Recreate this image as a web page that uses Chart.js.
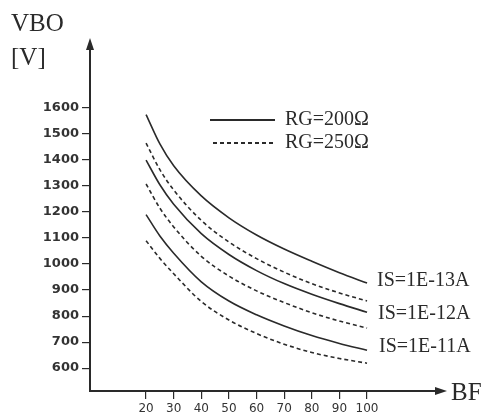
<!DOCTYPE html>
<html lang="en">
<head>
    <meta charset="UTF-8">
    <title>VBO vs BF</title>
    <style>
        html, body { margin: 0; padding: 0; background: #fff; }
        #wrap { width: 486px; height: 417px; position: relative; }
    </style>
</head>
<body>
    <div id="wrap"><canvas id="vboChart" width="486" height="417"></canvas></div>

    <script src="https://cdn.jsdelivr.net/npm/chart.js"></script>
    <script>
        // BF values (x) and VBO readings (y, volts)
        const bf = [20, 25, 30, 40, 50, 60, 70, 80, 90, 100];
        const xTicks = [20, 30, 40, 50, 60, 70, 80, 90, 100];
        const yTicks = [600, 700, 800, 900, 1000, 1100, 1200, 1300, 1400, 1500, 1600];

        // RG = 200 ohm (solid)
        const is13_rg200 = [1575, 1462, 1378, 1262, 1178, 1112, 1058, 1011, 967, 927];
        const is12_rg200 = [1400, 1305, 1230, 1117, 1037, 975, 925, 884, 848, 815];
        const is11_rg200 = [1190, 1108, 1042, 932, 858, 805, 762, 725, 695, 669];
        // RG = 250 ohm (dashed)
        const is13_rg250 = [1465, 1363, 1285, 1168, 1085, 1021, 969, 925, 889, 858];
        const is12_rg250 = [1308, 1215, 1143, 1030, 954, 897, 852, 813, 781, 754];
        const is11_rg250 = [1090, 1022, 963, 856, 785, 733, 692, 660, 637, 619];

        const ink = '#2a2a2a';

        function serie(values, dashed) {
            return {
                data: bf.map((b, i) => ({ x: b, y: values[i] })),
                borderColor: ink,
                borderWidth: 1.6,
                borderDash: dashed ? [4, 3] : [],
                pointRadius: 0,
                fill: false,
                tension: 0.4,
                cubicInterpolationMode: 'monotone'
            };
        }

        // texte, fleches et legende dessines a la main
        const annotations = {
            id: 'annotations',
            afterDraw(chart) {
                const ctx = chart.ctx;
                const a = chart.chartArea;
                ctx.save();
                ctx.fillStyle = ink;
                ctx.strokeStyle = ink;

                // fleche axe Y
                ctx.beginPath();
                ctx.moveTo(a.left, a.top - 4);
                ctx.lineTo(a.left - 4, a.top + 8);
                ctx.lineTo(a.left + 4, a.top + 8);
                ctx.closePath();
                ctx.fill();
                // fleche axe X
                ctx.beginPath();
                ctx.moveTo(a.right + 4, a.bottom);
                ctx.lineTo(a.right - 8, a.bottom - 4);
                ctx.lineTo(a.right - 8, a.bottom + 4);
                ctx.closePath();
                ctx.fill();

                ctx.font = '25px "Liberation Serif"';
                ctx.textAlign = 'left';
                ctx.textBaseline = 'alphabetic';
                ctx.fillText('VBO', 11, 31);
                ctx.fillText('[V]', 11, 65);
                ctx.fillText('BF', 451, 400);

                // legende
                ctx.lineWidth = 1.8;
                ctx.beginPath();
                ctx.moveTo(210, 120);
                ctx.lineTo(275, 120);
                ctx.stroke();
                ctx.setLineDash([4, 3]);
                ctx.beginPath();
                ctx.moveTo(213, 143);
                ctx.lineTo(275, 143);
                ctx.stroke();
                ctx.setLineDash([]);

                ctx.font = '20px "Liberation Serif"';
                ctx.textBaseline = 'middle';
                ctx.fillText('RG=200\u03A9', 285, 120);
                ctx.fillText('RG=250\u03A9', 285, 143);

                ctx.fillText('IS=1E-13A', 377, 281);
                ctx.fillText('IS=1E-12A', 378, 314);
                ctx.fillText('IS=1E-11A', 379, 347);
                ctx.restore();
            }
        };

        const ctx = document.getElementById('vboChart').getContext('2d');
        const chart = new Chart(ctx, {
            type: 'line',
            data: {
                datasets: [
                    serie(is13_rg200, false),
                    serie(is13_rg250, true),
                    serie(is12_rg200, false),
                    serie(is12_rg250, true),
                    serie(is11_rg200, false),
                    serie(is11_rg250, true)
                ]
            },
            options: {
                responsive: false,
                animation: false,
                layout: { padding: { left: 0, top: 42, right: 43, bottom: 0 } },
                plugins: {
                    legend: { display: false },
                    tooltip: { enabled: false }
                },
                scales: {
                    x: {
                        type: 'linear',
                        min: -0.3,
                        max: 127.5,
                        afterBuildTicks: s => { s.ticks = xTicks.map(v => ({ value: v })); },
                        afterFit: s => { s.height = 26; },
                        grid: { drawOnChartArea: false, drawTicks: true, tickLength: 8, color: ink, lineWidth: 1.2 },
                        border: { display: true, color: ink, width: 2 },
                        ticks: {
                            autoSkip: false,
                            maxRotation: 0,
                            padding: 3,
                            color: '#333',
                            font: { family: 'DejaVu Sans', size: 12 },
                            callback: v => String(v)
                        }
                    },
                    y: {
                        type: 'linear',
                        min: 512,
                        max: 1854,
                        afterBuildTicks: s => { s.ticks = yTicks.map(v => ({ value: v })); },
                        afterFit: s => { s.width = 90; },
                        grid: { drawOnChartArea: false, drawTicks: true, tickLength: 8, color: ink, lineWidth: 1.2 },
                        border: { display: true, color: ink, width: 2 },
                        ticks: {
                            autoSkip: false,
                            padding: 3,
                            color: '#333',
                            font: { family: 'DejaVu Sans', size: 13, weight: 'bold' },
                            callback: v => String(v)
                        }
                    }
                }
            },
            plugins: [annotations]
        });
    </script>
</body>
</html>
